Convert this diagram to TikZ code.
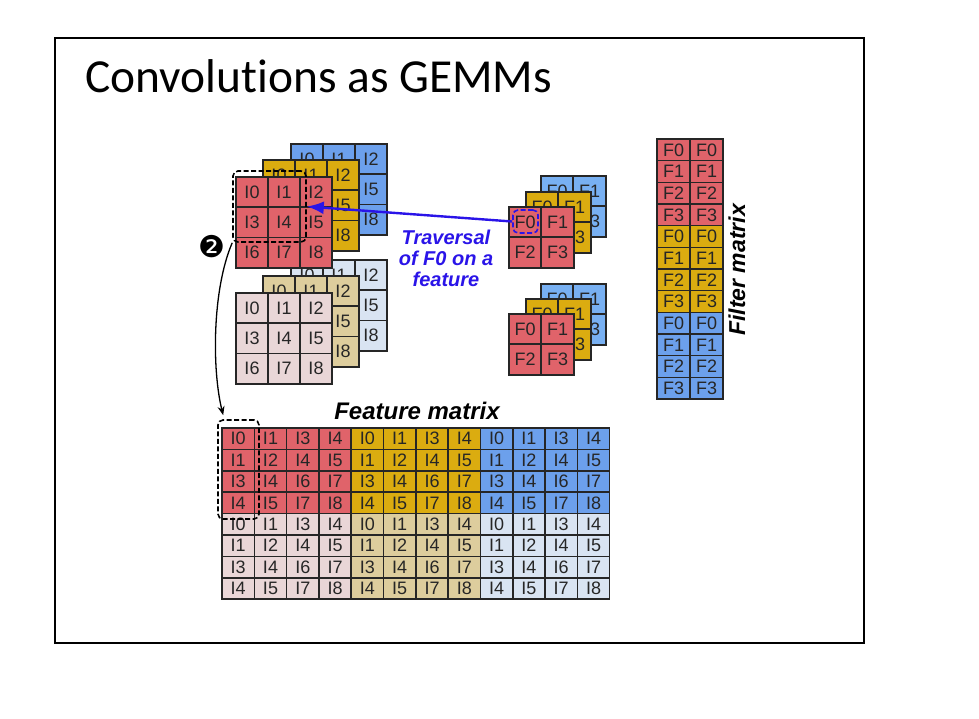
\documentclass[tikz,border=0pt]{standalone}
\usepackage{fontspec}
\setmainfont{Liberation Sans}
\newfontfamily\titlefont[Ligatures=NoCommon]{Carlito}
\newfontfamily\symbolfont{DejaVu Sans}
\usetikzlibrary{arrows.meta,positioning,calc}
\definecolor{RedCell}{HTML}{E0636A}
\definecolor{GoldCell}{HTML}{DBAC10}
\definecolor{BlueCell}{HTML}{6CA0EC}
\definecolor{SkyCell}{HTML}{78B0F2}
\definecolor{PinkCell}{HTML}{E9D6D7}
\definecolor{TanCell}{HTML}{DDCD9D}
\definecolor{MistCell}{HTML}{D9E4F2}
\definecolor{TraversalBlue}{HTML}{2A14E8}
\definecolor{InkGrey}{HTML}{262626}
\tikzset{
  cellbox/.style={draw=black!85,line width=1.6pt,inner sep=0pt,text=InkGrey,font=\fontsize{18}{18}\selectfont},
  dashbox/.style={draw=black,dashed,line width=1.6pt,rounded corners=5pt,inner sep=0pt,dash pattern=on 5pt off 2.5pt},
  tagtext/.style={font=\bfseries\itshape\fontsize{20}{21}\selectfont,align=center}
}
\begin{document}
\begin{tikzpicture}[x=1pt,y=-1pt]
  \useasboundingbox (0,0) rectangle (979,718);
  \node[draw,line width=1.4pt,minimum width=809pt,minimum height=605pt,inner sep=0pt] (frame) at (459.5,340.5){};
  \node[anchor=west,font=\titlefont\fontsize{47.4}{47.4}\selectfont] (title) at (82,76){Convolutions as GEMMs};

  % Feature stacks
  \foreach \nm/\col/\ox/\oy in {tb/MistCell/307/275,tg/TanCell/279/291,tr/PinkCell/252/308,
                                bb/BlueCell/307/159,bg/GoldCell/279/175,br/RedCell/252/192}{
    \foreach \r in {0,1,2}{
      \foreach \c in {0,1,2}{
        \pgfmathtruncatemacro\n{3*\r+\c}
        \node[cellbox,fill=\col,minimum width=32pt,minimum height=30.3pt] (\nm\n) at (\ox+32*\c,\oy+30.3*\r){I\n};
      }
    }
  }

  % Filter stacks
  \foreach \nm/\col/\ox/\oy in {pa/SkyCell/557/191,pb/GoldCell/542/207,pc/RedCell/525/222,
                                qa/SkyCell/557/299,qb/GoldCell/542/314,qc/RedCell/525/329}{
    \foreach \r in {0,1}{
      \foreach \c in {0,1}{
        \pgfmathtruncatemacro\n{2*\r+\c}
        \node[cellbox,fill=\col,minimum width=32.5pt,minimum height=30.5pt] (\nm\n) at (\ox+32.5*\c,\oy+30.5*\r){F\n};
      }
    }
  }

  % Filter matrix
  \foreach \col [count=\b from 0] in {RedCell,GoldCell,BlueCell}{
    \foreach \r in {0,1,2,3}{
      \foreach \c in {0,1}{
        \node[cellbox,fill=\col,minimum width=33pt,minimum height=21.67pt] (f\b\r\c) at (673.5+33*\c,149.8+21.67*\r+86.68*\b){F\r};
      }
    }
  }

  % Feature matrix
  \foreach \col/\b/\ox/\oy in {RedCell/a/0/0,GoldCell/b/1/0,BlueCell/c/2/0,PinkCell/d/0/1,TanCell/e/1/1,MistCell/g/2/1}{
    \foreach \lab [count=\k from 0] in {0,1,3,4,1,2,4,5,3,4,6,7,4,5,7,8}{
      \pgfmathtruncatemacro\r{int(\k/4)}
      \pgfmathtruncatemacro\c{mod(\k,4)}
      \node[cellbox,fill=\col,minimum width=32.3pt,minimum height=21.4pt] (m\b\k) at (238.2+32.3*\c+129.2*\ox,438.7+21.4*\r+85.6*\oy){I\lab};
    }
  }

  % Dashed windows
  \node[dashbox,minimum width=73pt,minimum height=71pt] (window) at (269.5,206.5){};
  \node[dashbox,minimum width=41pt,minimum height=99pt] (featwin) at (238.5,469.5){};
  \node[dashbox,draw=TraversalBlue,minimum width=25pt,minimum height=23pt] (filtwin) at (525.5,221.5){};

  % Arrows
  \draw[TraversalBlue,line width=2.4pt,-{Latex[length=17pt,width=13pt]}] (filtwin.west) -- (window.east);
  \draw[line width=1.3pt,-{Stealth[length=9pt,width=7pt]}] (window.south west) .. controls (212,290) and (212,370) .. ($(featwin.north west)+(6,-4)$);

  % Labels
  \node[font=\symbolfont\fontsize{30}{30}\selectfont] (badge) at (211.5,247){❷};
  \node[tagtext,text=TraversalBlue] (travlabel) at (446,258){Traversal\\of F0 on a\\feature};
  \node[tagtext,font=\bfseries\itshape\fontsize{24}{24}\selectfont] (matlabel) at (417,411){Feature matrix};
  \node[tagtext,rotate=90,font=\bfseries\itshape\fontsize{23}{23}\selectfont] (fillabel) at (737,270){Filter matrix};
\end{tikzpicture}
\end{document}
